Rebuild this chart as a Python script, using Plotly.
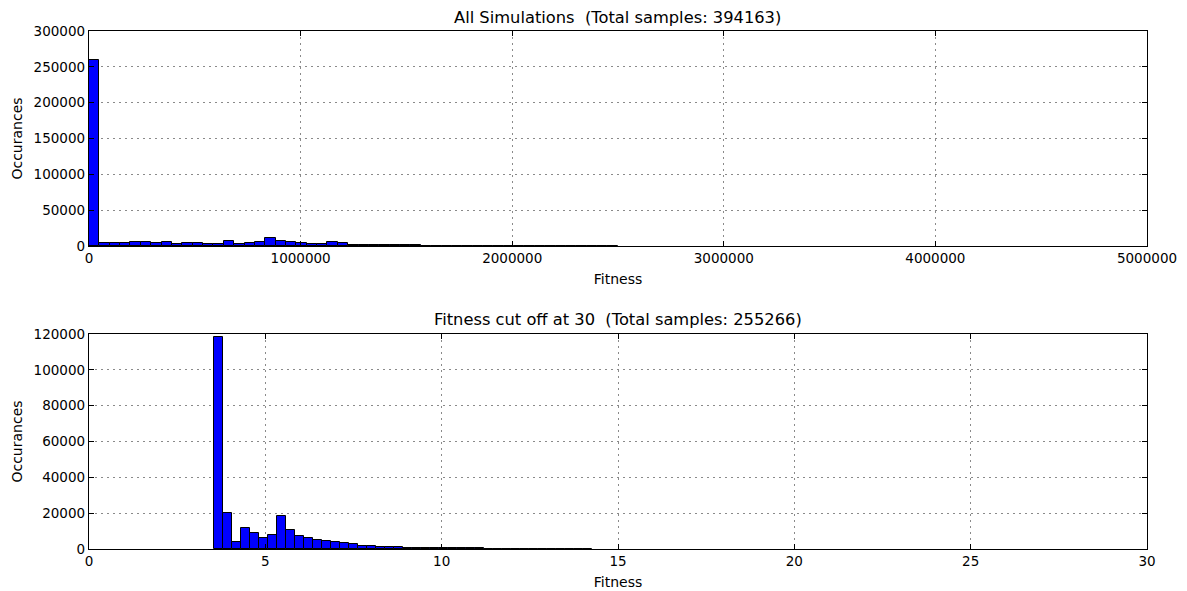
import plotly.graph_objects as go

# ---- data ----
top_bin_start = 0.0
top_bin_width = 49000.0
top_counts = [259000, 4000, 4500, 4000, 5500, 6000, 4500, 6000, 2500, 4000,
              4000, 3000, 3000, 7000, 2500, 4500, 6000, 11000, 7000, 5000,
              4500, 2500, 2500, 6000, 3500, 1500, 1000, 800, 900, 850,
              800, 750, 700, 650, 600, 550, 500, 480, 450, 420,
              400, 380, 350, 320, 300, 280, 260, 240, 220, 200, 150]
top_title = "All Simulations \u00a0(Total samples: 394163)"

bot_bin_start = 3.54
bot_bin_width = 0.255
bot_counts = [118500, 20000, 3700, 11650, 9060, 5900, 7770, 18700, 10700, 7200,
              6300, 5200, 4600, 3700, 3150, 2600, 1850, 1500, 1300, 1100,
              900, 800, 700, 600, 550, 500, 450, 400, 350, 300,
              280, 250, 220, 200, 180, 160, 140, 120, 100, 90,
              80, 70]
bot_title = "Fitness cut off at 30 \u00a0(Total samples: 255266)"

top_xticks = [0, 1000000, 2000000, 3000000, 4000000, 5000000]
top_yticks = [0, 50000, 100000, 150000, 200000, 250000, 300000]
bot_xticks = [0, 5, 10, 15, 20, 25, 30]
bot_yticks = [0, 20000, 40000, 60000, 80000, 100000, 120000]

# ---- figure ----
W, H = 1187, 591
def px_x(p):
    return p / W
def px_y(p):
    return 1 - p / H

top_centers = [top_bin_start + (i + 0.5) * top_bin_width for i in range(len(top_counts))]
bot_centers = [bot_bin_start + (i + 0.5) * bot_bin_width for i in range(len(bot_counts))]

fig = go.Figure()
bar_style = dict(marker=dict(color="#0000ff", line=dict(color="black", width=1)), showlegend=False,
                 hoverinfo="x+y")
fig.add_trace(go.Bar(x=top_centers, y=top_counts, width=top_bin_width, xaxis="x", yaxis="y", **bar_style))
fig.add_trace(go.Bar(x=bot_centers, y=bot_counts, width=bot_bin_width, xaxis="x2", yaxis="y2", **bar_style))

tick_font = dict(family="DejaVu Sans", size=13.5, color="black")
label_font = dict(family="DejaVu Sans", size=14, color="black")
axis_common = dict(showline=True, linecolor="black", linewidth=1.3, mirror="ticks",
                   ticks="inside", ticklen=5, tickcolor="black", tickwidth=1,
                   showgrid=True, gridcolor="#8a8a8a", griddash="2px,4px", gridwidth=1,
                   zeroline=False, tickfont=tick_font, tickformat="d", automargin=False)

xd = [px_x(89), px_x(1147)]
fig.update_layout(
    width=W, height=H, margin=dict(l=0, r=0, t=0, b=0, autoexpand=False),
    paper_bgcolor="white", plot_bgcolor="white", bargap=0, font=tick_font,
    xaxis=dict(domain=xd, anchor="y", range=[0, 5000000], tickvals=top_xticks,
               title=dict(text="Fitness", font=label_font, standoff=8), **axis_common),
    yaxis=dict(domain=[px_y(246), px_y(31)], anchor="x", range=[0, 300000], tickvals=top_yticks,
               title=dict(text="Occurances", font=label_font, standoff=7), **axis_common),
    xaxis2=dict(domain=xd, anchor="y2", range=[0, 30], tickvals=bot_xticks,
                title=dict(text="Fitness", font=label_font, standoff=8), **axis_common),
    yaxis2=dict(domain=[px_y(549), px_y(334)], anchor="x2", range=[0, 120000], tickvals=bot_yticks,
                title=dict(text="Occurances", font=label_font, standoff=7), **axis_common),
    annotations=[
        dict(text=top_title, x=(xd[0] + xd[1]) / 2, y=px_y(29), xref="paper", yref="paper",
             xanchor="center", yanchor="bottom", showarrow=False,
             font=dict(family="DejaVu Sans", size=16.3, color="black")),
        dict(text=bot_title, x=(xd[0] + xd[1]) / 2, y=px_y(331), xref="paper", yref="paper",
             xanchor="center", yanchor="bottom", showarrow=False,
             font=dict(family="DejaVu Sans", size=16.3, color="black")),
    ],
)

fig.write_html("out.html")
